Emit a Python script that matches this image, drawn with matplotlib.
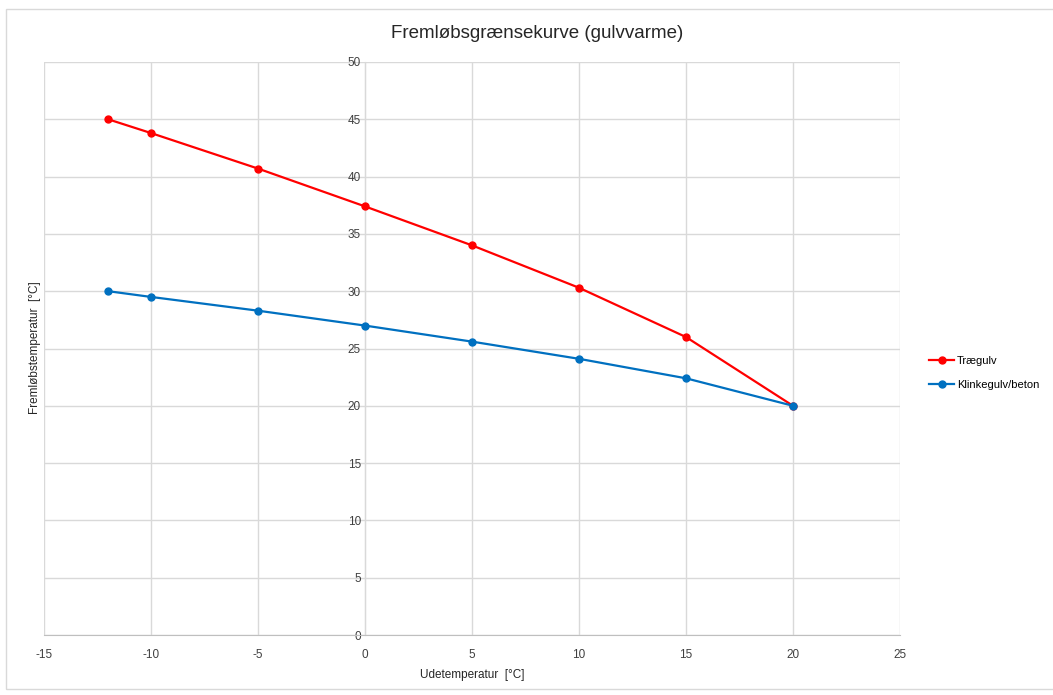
import matplotlib.pyplot as plt
from matplotlib.patches import Rectangle

# Data
udetemp = [-12, -10, -5, 0, 5, 10, 15, 20]
traegulv = [45.0, 43.8, 40.7, 37.4, 34.0, 30.3, 26.0, 20.0]
klinkegulv = [30.0, 29.5, 28.3, 27.0, 25.6, 24.1, 22.4, 20.0]
x_ticks = [-15, -10, -5, 0, 5, 10, 15, 20, 25]
y_ticks = [0, 5, 10, 15, 20, 25, 30, 35, 40, 45, 50]

plt.rcParams['font.family'] = ['Liberation Sans', 'DejaVu Sans']
plt.rcParams['axes.unicode_minus'] = False

fig = plt.figure(figsize=(10.53, 6.95), dpi=100)
fig.patches.append(Rectangle((6 / 1053, 6 / 695), 1.0, 1 - 15 / 695,
                             transform=fig.transFigure, fill=False,
                             edgecolor='#d9d9d9', linewidth=1))

ax = fig.add_axes([44 / 1053, 1 - 635 / 695, 856 / 1053, 573 / 695])

ax.plot(udetemp, traegulv, color='#FF0000', linewidth=1.6, marker='o',
        markersize=5, label='Trægulv', zorder=3)
ax.plot(udetemp, klinkegulv, color='#0070C0', linewidth=1.6, marker='o',
        markersize=5, label='Klinkegulv/beton', zorder=3)

ax.set_xlim(-15, 25)
ax.set_ylim(0, 50)
ax.set_xticks(x_ticks)
ax.set_yticks(y_ticks)
ax.grid(True, color='#d9d9d9', linewidth=1)
ax.set_axisbelow(True)

for s in ['top', 'right']:
    ax.spines[s].set_visible(False)
ax.spines['left'].set_position(('data', 0))
ax.spines['left'].set_color('#d9d9d9')
ax.spines['bottom'].set_color('#bfbfbf')
ax.tick_params(axis='both', length=0, labelsize=8.5, colors='#404040')
ax.tick_params(axis='x', pad=10)
ax.tick_params(axis='y', pad=3)

fig.text(0.51, 1 - 33 / 695, 'Fremløbsgrænsekurve (gulvvarme)',
         ha='center', va='center', fontsize=13.5, color='#262626')
fig.text(472 / 1053, 1 - 675 / 695, 'Udetemperatur  [°C]',
         ha='center', va='center', fontsize=8.5, color='#262626')
fig.text(35 / 1053, 1 - 348 / 695, 'Fremløbstemperatur  [°C]',
         ha='center', va='center', rotation=90, fontsize=8.5, color='#262626')

ax.legend(loc='center left', bbox_to_anchor=(881 / 856, (635 - 373) / 573),
          bbox_transform=ax.transAxes, frameon=False, fontsize=8,
          handlelength=2.2, handletextpad=0.3, labelspacing=1.2,
          borderaxespad=0)

plt.savefig('out.png', dpi=100)
